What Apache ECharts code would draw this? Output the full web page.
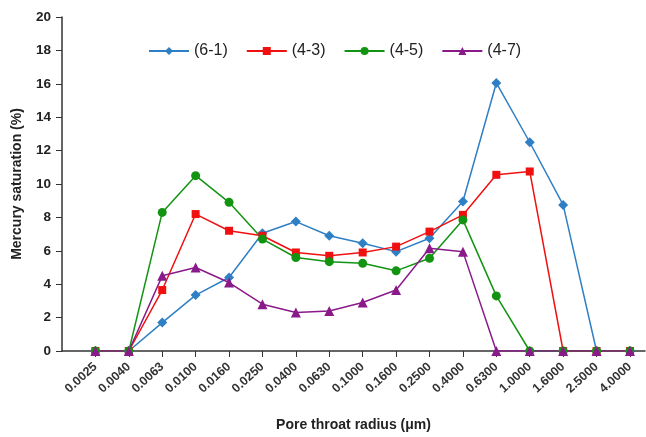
<!DOCTYPE html>
<html><head><meta charset="utf-8">
<script src="https://cdn.jsdelivr.net/npm/echarts@6/dist/echarts.min.js"></script>
<style>html,body{margin:0;padding:0;background:#fff}#c{width:646px;height:437px}</style>
</head><body><div id="c"></div>
<script>
var categories = ['0.0025','0.0040','0.0063','0.0100','0.0160','0.0250','0.0400','0.0630','0.1000','0.1600','0.2500','0.4000','0.6300','1.0000','1.6000','2.5000','4.0000'];
var s61 = [0, 0, 1.7, 3.35, 4.4, 7.05, 7.75, 6.9, 6.45, 5.95, 6.75, 8.95, 16.05, 12.5, 8.75, 0, 0];
var s43 = [0, 0, 3.65, 8.2, 7.2, 6.9, 5.9, 5.7, 5.9, 6.25, 7.15, 8.15, 10.55, 10.75, 0, 0, 0];
var s45 = [0, 0, 8.3, 10.5, 8.9, 6.7, 5.6, 5.35, 5.25, 4.8, 5.55, 7.85, 3.3, 0, 0, 0, 0];
var s47 = [0, 0, 4.5, 5.0, 4.1, 2.8, 2.3, 2.4, 2.9, 3.65, 6.15, 5.95, 0, 0, 0, 0, 0];
var yTicks = [0, 2, 4, 6, 8, 10, 12, 14, 16, 18, 20];

function pts(arr){ return arr.map(function(v,i){ return [i, v]; }); }
var idx = categories.map(function(c,i){ return i; });
var font = 'Liberation Sans, Arial, sans-serif';
function ser(name, data, color, symbol, size){
  return {name:name, type:'line', data:pts(data), symbol:symbol, symbolSize:size,
    lineStyle:{color:color, width:1.5}, itemStyle:{color:color}, color:color};
}
var chart = echarts.init(document.getElementById('c'));
chart.setOption({
  animation:false,
  grid:{left:62, top:17, right:1, bottom:86, containLabel:false, outerBoundsMode:'none'},
  legend:{left:143, top:38, itemWidth:40, itemHeight:10, itemGap:18,
    textStyle:{fontFamily:font, fontSize:16, color:'#222'},
    data:['(6-1)','(4-3)','(4-5)','(4-7)']},
  xAxis:{type:'value', min:-1, max:16.45, interval:1,
    name:'Pore throat radius (μm)', nameLocation:'middle', nameGap:67,
    nameTextStyle:{fontFamily:font, fontSize:14, fontWeight:'bold', color:'#222'},
    axisLine:{show:true, onZero:false, lineStyle:{color:'#333', width:1.5}},
    axisTick:{show:true, length:6, inside:false, customValues:idx, lineStyle:{color:'#333'}},
    axisLabel:{customValues:idx, rotate:42, fontFamily:font, fontSize:12.5, fontWeight:'bold', color:'#333', margin:14,
      formatter:function(v){ return categories[Math.round(v)] || ''; }},
    splitLine:{show:false}},
  yAxis:{type:'value', min:0, max:20, interval:2,
    name:'Mercury saturation (%)', nameLocation:'middle', nameGap:38,
    nameTextStyle:{fontFamily:font, fontSize:14, fontWeight:'bold', color:'#222'},
    axisLine:{show:true, onZero:false, lineStyle:{color:'#333', width:1.5}},
    axisTick:{show:true, length:6, lineStyle:{color:'#333'}},
    axisLabel:{customValues:yTicks, fontFamily:font, fontSize:13.5, fontWeight:'bold', color:'#222', margin:11},
    splitLine:{show:false}},
  series:[
    ser('(6-1)', s61, '#2f7fc4', 'diamond', 10),
    ser('(4-3)', s43, '#f01010', 'rect', 8),
    ser('(4-5)', s45, '#129412', 'circle', 9),
    ser('(4-7)', s47, '#8a1a8a', 'triangle', 10)
  ]
});
</script></body></html>
